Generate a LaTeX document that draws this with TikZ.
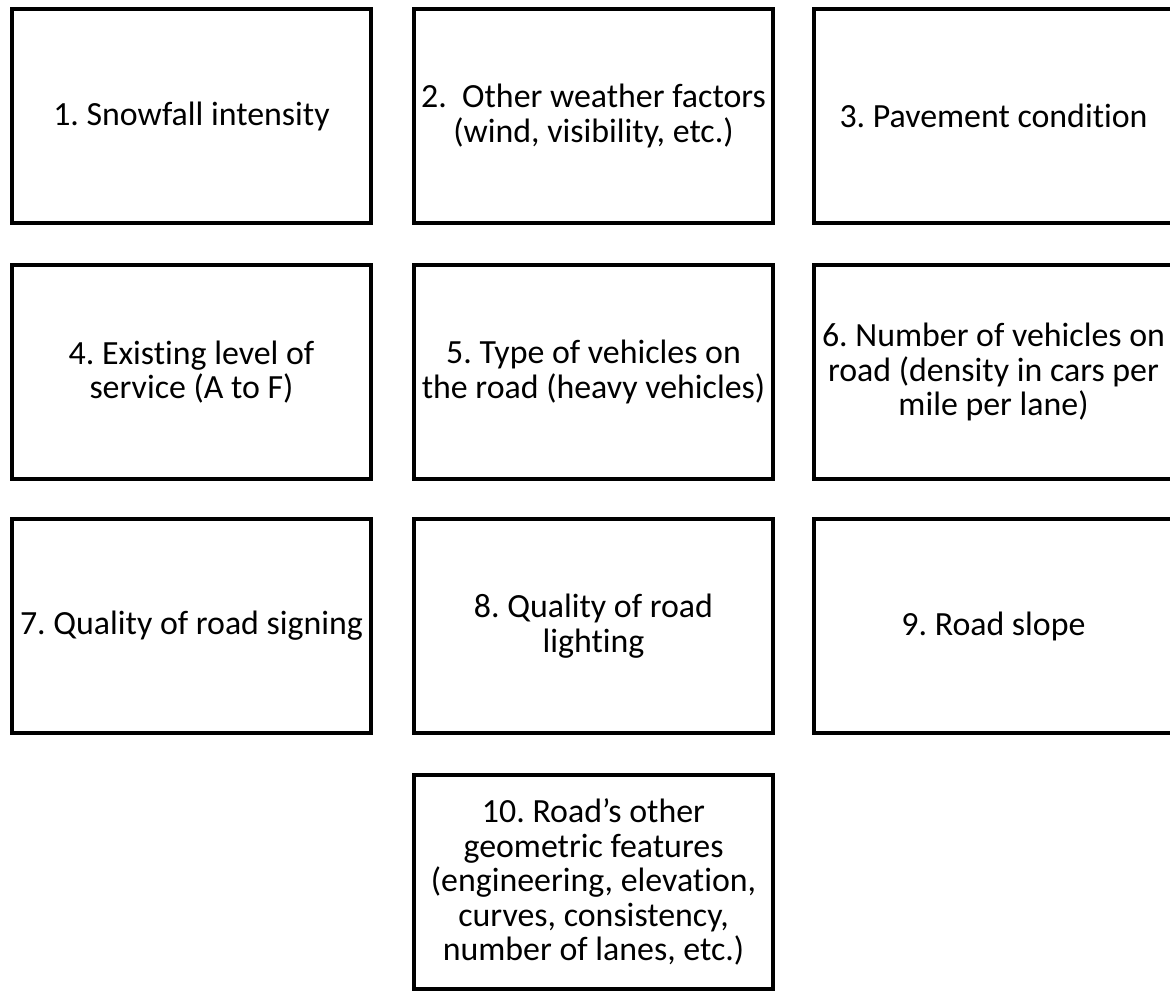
\documentclass[tikz,border=0pt]{standalone}
\usepackage{fontspec}
\setmainfont{Carlito}[Ligatures=NoCommon]
\frenchspacing

\begin{document}
\begin{tikzpicture}[x=0.75pt,y=-0.75pt]
          \tikzset{FactorBox/.style={draw=black,line width=3pt,fill=white,
              minimum width=269.25pt,minimum height=160.5pt,inner sep=0pt,
              align=center,font=\fontsize{25.4}{25.8}\selectfont}};
          \useasboundingbox (0,0) rectangle (1170,990);
          \clip (0,0) rectangle (1170,990);

          % first row
          \node[FactorBox] (snow) at (191.5,116){1. Snowfall intensity};
          \node[FactorBox] (weather) at (593.5,116){2.\ \ Other weather factors\\(wind, visibility, etc.)};
          \node[FactorBox] (pavement) at (993.5,116){3. Pavement condition};

          % second row
          \node[FactorBox] (service) at (191.5,372){4. Existing level of\\service (A to F)};
          \node[FactorBox] (vtype) at (593.5,372){5. Type of vehicles on\\the road (heavy vehicles)};
          \node[FactorBox] (density) at (993.5,372){6. Number of vehicles on\\road (density in cars per\\mile per lane)};

          % third row
          \node[FactorBox] (signing) at (191.5,626){7. Quality of road signing};
          \node[FactorBox] (lighting) at (593.5,626){8. Quality of road\\lighting};
          \node[FactorBox] (slope) at (993.5,626){9. Road slope};

          \node[FactorBox] (geometry) at (593.5,882){10. Road’s other\\geometric features\\(engineering, elevation,\\curves, consistency,\\number of lanes, etc.)};
        \end{tikzpicture}
\end{document}
